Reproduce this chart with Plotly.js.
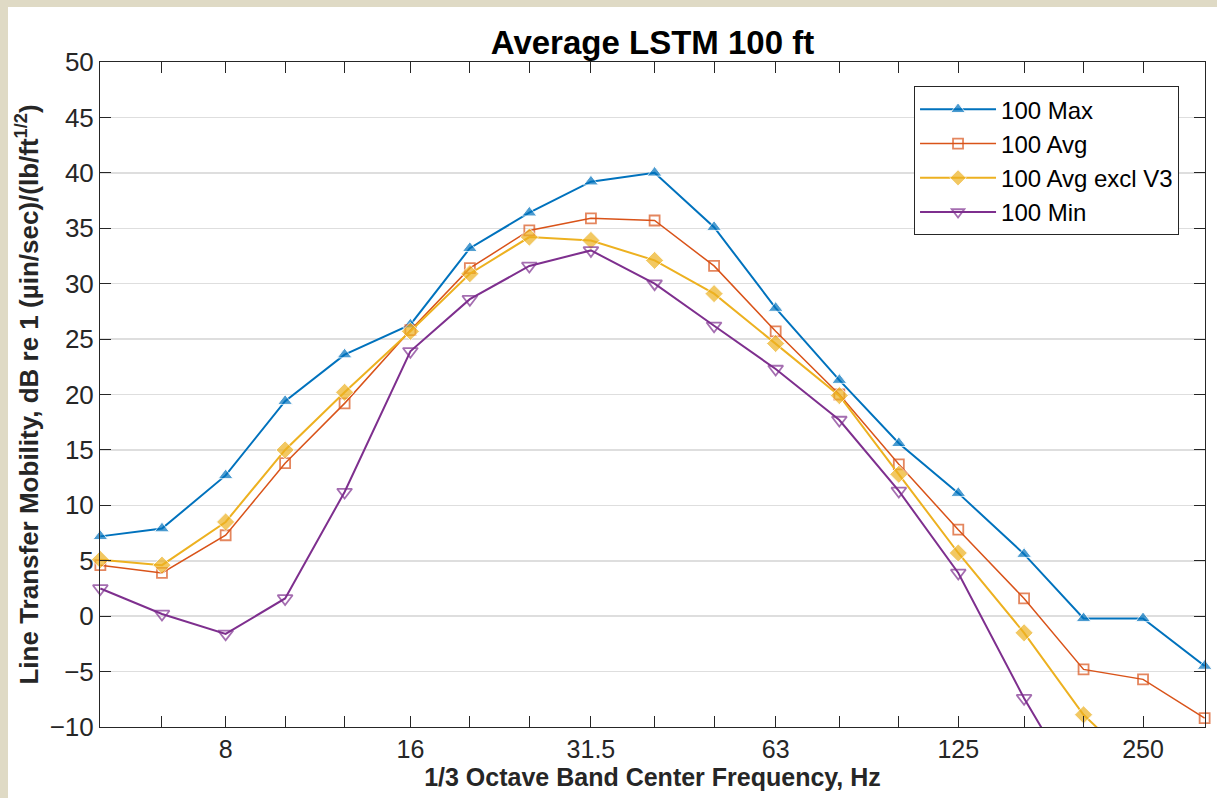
<!DOCTYPE html>
<html>
<head>
<meta charset="utf-8">
<script src="https://cdn.plot.ly/plotly-3.0.1.min.js"></script>
<style>
  html, body { margin: 0; padding: 0; background: #DFDAC5; width: 1217px; height: 798px; overflow: hidden; }
  #chart { position: absolute; left: 8px; top: 7px; width: 1209px; height: 791px; background: #fff; }
</style>
</head>
<body>
<div id="chart"></div>
<script>
// 1/3 octave band centre frequencies (Hz)
const freqs = [5, 6.3, 8, 10, 12.5, 16, 20, 25, 31.5, 40, 50, 63, 80, 100, 125, 160, 200, 250, 315];
const tickLabels = ['', '', '8', '', '', '16', '', '', '31.5', '', '', '63', '', '', '125', '', '', '250', ''];

// Line transfer mobility, dB
const max100    = [7.2, 7.9, 12.7, 19.4, 23.6, 26.3, 33.2, 36.4, 39.2, 40.0, 35.1, 27.8, 21.3, 15.6, 11.1, 5.6, -0.2, -0.2, -4.5];
const avg100    = [4.6, 3.9, 7.3, 13.8, 19.2, 25.8, 31.4, 34.8, 35.9, 35.7, 31.6, 25.7, 20.0, 13.7, 7.8, 1.6, -4.8, -5.7, -9.2];
const avgExclV3 = [5.1, 4.6, 8.5, 15.0, 20.2, 25.7, 30.9, 34.2, 33.9, 32.1, 29.1, 24.6, 19.9, 12.8, 5.7, -1.5, -8.9, -14.0, null];
const min100    = [2.5, 0.2, -1.6, 1.6, 11.2, 23.9, 28.6, 31.6, 33.0, 30.0, 26.2, 22.3, 17.7, 11.3, 3.9, -7.4, -16.5, null, null];

const seriesNames = ['100 Max', '100 Avg', '100 Avg excl V3', '100 Min'];

const yMin = -10, yMax = 50;
const FONT = '"Liberation Sans", Arial, Helvetica, sans-serif';

function sizes(vals, s) { return vals.map(v => (v === null || v < yMin) ? 0 : s); }

const traces = [
  { x: freqs, y: max100, name: seriesNames[0], type: 'scatter', mode: 'lines+markers', cliponaxis: false,
    line: { color: '#0072BD', width: 2 },
    marker: { symbol: 'triangle-up', size: sizes(max100, 13), color: '#0072BD' } },
  { x: freqs, y: avg100, name: seriesNames[1], type: 'scatter', mode: 'lines+markers', cliponaxis: false,
    line: { color: '#D95319', width: 1.5 },
    marker: { symbol: 'square-open', size: sizes(avg100, 10), color: '#D95319', line: { width: 1.8, color: '#D95319' } } },
  { x: freqs, y: avgExclV3, name: seriesNames[2], type: 'scatter', mode: 'lines+markers', cliponaxis: false,
    line: { color: '#EDB120', width: 2 },
    marker: { symbol: 'diamond', size: sizes(avgExclV3, 14), color: '#EDB120' } },
  { x: freqs, y: min100, name: seriesNames[3], type: 'scatter', mode: 'lines+markers', cliponaxis: false,
    line: { color: '#7E2F8E', width: 2 },
    marker: { symbol: 'triangle-down-open', size: sizes(min100, 13), color: '#7E2F8E', line: { width: 1.8, color: '#7E2F8E' } } }
];

const layout = {
  width: 1209, height: 791,
  margin: { l: 92, r: 12, t: 55, b: 71 },
  paper_bgcolor: '#ffffff', plot_bgcolor: '#ffffff',
  font: { family: FONT, color: '#262626', size: 25 },
  title: { text: '<b>Average LSTM 100 ft</b>', font: { family: FONT, size: 33, color: '#000000' },
           x: 0.5, xref: 'paper', y: 0.955, yref: 'container', yanchor: 'middle' },
  showlegend: true,
  legend: { x: 0.9765, xanchor: 'right', y: 0.9635, yanchor: 'top', bgcolor: '#ffffff',
            bordercolor: '#262626', borderwidth: 1, font: { family: FONT, size: 24, color: '#000000' },
            itemwidth: 76, tracegroupgap: 0 },
  xaxis: {
    type: 'log', range: [Math.log10(freqs[0]) - 0.0006, Math.log10(freqs[freqs.length - 1]) + 0.0006],
    tickmode: 'array', tickvals: freqs, ticktext: tickLabels,
    ticks: 'inside', ticklen: 11, tickwidth: 1, tickcolor: '#262626',
    showline: true, linecolor: '#262626', linewidth: 1, mirror: 'ticks',
    showgrid: false, zeroline: false,
    tickfont: { family: FONT, size: 25, color: '#262626' },
    title: { text: '<b>1/3 Octave Band Center Frequency, Hz</b>', font: { family: FONT, size: 25, color: '#262626' }, standoff: 6 }
  },
  yaxis: {
    range: [yMin, yMax], dtick: 5, tick0: 0,
    ticks: 'inside', ticklen: 11, tickwidth: 1, tickcolor: '#262626',
    showline: true, linecolor: '#262626', linewidth: 1, mirror: 'ticks',
    showgrid: true, gridcolor: '#DEDEDE', gridwidth: 1.5, zeroline: false,
    tickfont: { family: FONT, size: 26, color: '#262626' },
    title: { text: '<b>Line Transfer Mobility, dB re 1 (µin/sec)/(lb/ft<sup>1/2</sup>)</b>', font: { family: FONT, size: 26, color: '#262626' }, standoff: 3 }
  }
};

Plotly.newPlot('chart', traces, layout, { displayModeBar: false, staticPlot: true });
</script>
</body>
</html>
